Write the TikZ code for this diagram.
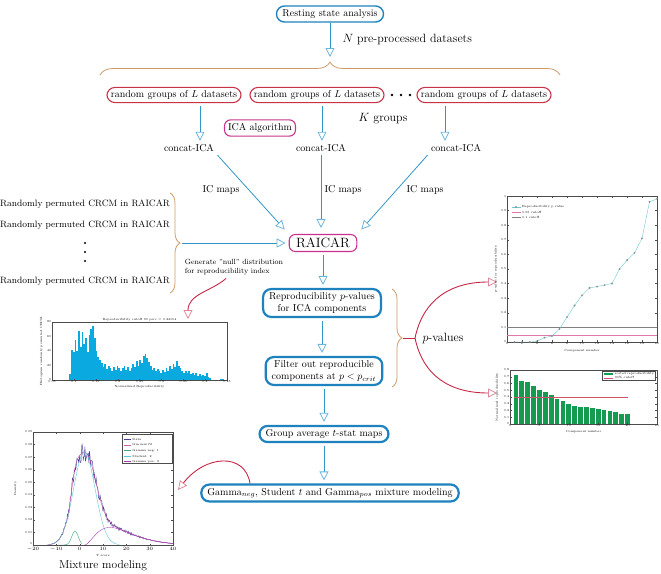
\documentclass[tikz,border=0pt]{standalone}
\usetikzlibrary{arrows.meta,positioning,decorations.pathreplacing}

% colours
\definecolor{flowblue}{RGB}{30,130,190}
\definecolor{arrowblue}{RGB}{50,150,200}
\definecolor{tipblue}{RGB}{110,180,220}
\definecolor{groupred}{RGB}{200,50,70}
\definecolor{icamag}{RGB}{200,50,140}
\definecolor{bracetan}{RGB}{205,155,105}
\definecolor{curvered}{RGB}{195,40,70}
\definecolor{histblue}{RGB}{10,170,225}
\definecolor{bargreen}{RGB}{20,155,80}
\definecolor{datacol}{RGB}{70,60,150}
\definecolor{fitcol}{RGB}{210,90,170}
\definecolor{negcol}{RGB}{60,170,120}
\definecolor{studcol}{RGB}{90,200,210}
\definecolor{poscol}{RGB}{170,60,180}
\definecolor{plinecol}{RGB}{110,200,210}
\definecolor{cutpink}{RGB}{220,120,170}

\tikzset{
  stepbox/.style={draw=flowblue, line width=1.4pt, rounded corners=8pt,
    inner xsep=6pt, inner ysep=3.5pt, align=center},
  thickbox/.style={stepbox, line width=2.2pt},
  groupbox/.style={draw=groupred, line width=1.1pt, rounded corners=8pt,
    inner xsep=4pt, inner ysep=3pt},
  magbox/.style={draw=icamag, line width=1.1pt, rounded corners=6pt, inner sep=3.5pt},
  flow/.style={draw=arrowblue, line width=0.8pt,
    -{Triangle[open, length=9pt, width=9pt, color=tipblue, line width=0.8pt]}},
  gap/.style={shorten <=3pt, shorten >=3pt},
  redcurve/.style={draw=curvered, line width=0.9pt,
    -{Triangle[open, length=9pt, width=9pt, color=curvered!55, line width=0.8pt]}},
  tanbrace/.style={draw=bracetan, line width=0.8pt, decorate,
    decoration={brace, amplitude=#1}},
  tanbrace/.default=10pt,
  biglabel/.style={font=\large},
  permtext/.style={font=\fontsize{9.2}{11}\selectfont},
  smalltext/.style={font=\fontsize{7.5}{9}\selectfont, align=left},
  captext/.style={font=\fontsize{11.5}{13}\selectfont},
  plottick/.style={font=\fontsize{3}{3.6}\selectfont, inner sep=0.6pt},
  axisline/.style={draw=black!70, line width=0.25pt},
  histbar/.style={fill=histblue},
  pline/.style={draw=plinecol, line width=0.4pt},
  pmark/.style={draw=gray, circle, inner sep=0pt, minimum size=1.6pt, line width=0.3pt},
  cut05/.style={draw=cutpink, line width=0.4pt},
  cut10/.style={draw=gray, line width=0.4pt},
}

\begin{document}
\begin{tikzpicture}[x=1pt, y=-1pt]
  \useasboundingbox (0,0) rectangle (661,573);

  % top of the pipeline
  \node[stepbox] (rest) at (330,14) {Resting state analysis};
  \coordinate (npre) at (330,57);
  \draw[flow] (rest) -- (npre);
  \node[biglabel, anchor=west] (nlab) at (339,39) {$N$ pre-processed datasets};
  \draw[tanbrace=13pt] (100,75) -- (560,75);

  % K random groups
  \node[groupbox] (grp1) at (174,95) {random groups of $L$ datasets};
  \node[groupbox] (grp2) at (317,95) {random groups of $L$ datasets};
  \node[groupbox] (grp3) at (484,95) {random groups of $L$ datasets};
  \foreach \x in {392,401,410} \fill (\x,95) circle (1.3);
  \node[magbox] (ica) at (260,128) {ICA algorithm};
  \node[biglabel] (kgrp) at (383,119) {$K$ groups};

  \node (cat1) at (189,148) {concat-ICA};
  \node (cat2) at (321,148) {concat-ICA};
  \node (cat3) at (456,148) {concat-ICA};
  \draw[flow, shorten <=3pt] ([xshift=26pt]grp1.south) -- ([xshift=11pt]cat1.north);
  \draw[flow, shorten <=3pt] ([xshift=5pt]grp2.south) -- ([xshift=1pt]cat2.north);
  \draw[flow, shorten <=3pt] ([xshift=-39pt]grp3.south) -- ([xshift=-11pt]cat3.north);

  % RAICAR
  \node[magbox, font=\fontsize{13.5}{16}\selectfont, inner xsep=7pt] (raicar) at (323,243) {RAICAR};
  \draw[flow, shorten >=6pt] (cat1.south east) -- (raicar.north west);
  \draw[flow, shorten >=6pt] (cat2.south) -- (cat2.south |- raicar.north);
  \draw[flow, shorten >=6pt] (cat3.south west) -- (raicar.north east);
  \node (ic1) at (221,190) {IC maps};
  \node (ic2) at (343,190) {IC maps};
  \node (ic3) at (425,190) {IC maps};

  % permuted CRCM
  \node[permtext] (perm1) at (85,204) {Randomly permuted CRCM in RAICAR};
  \node[permtext] (perm2) at (85,225) {Randomly permuted CRCM in RAICAR};
  \foreach \y in {243,252,261} \fill (85,\y) circle (1.2);
  \node[permtext] (perm3) at (85,281) {Randomly permuted CRCM in RAICAR};
  \draw[tanbrace] (170,193) -- (170,293);
  \coordinate (nullsrc) at (182,243);
  \draw[flow, shorten >=3pt] (nullsrc) -- (raicar.west);
  \node[smalltext] (nulltxt) at (234,267) {Generate "null" distribution\\for reproducibility index};
  \coordinate (histin) at (188,319);
  \draw[redcurve] ([xshift=-8pt]nulltxt.south) .. controls (212,291) and (188,294) .. (histin);

  % reproducibility and filtering
  \node[thickbox] (pval) at (322,303) {Reproducibility $p$-values\\for ICA components};
  \draw[flow, gap] (raicar.south) -- (raicar.south |- pval.north);
  \node[thickbox] (filt) at (324,371) {Filter out reproducible\\components at $p<p_{crit}$};
  \draw[flow, gap] (pval.south) -- (pval.south |- filt.north);
  \node[thickbox] (gavg) at (324,434) {Group average $t$-stat maps};
  \draw[flow, gap] (filt.south) -- (filt.south |- gavg.north);
  \node[thickbox] (gmix) at (330,493) {Gamma$_{neg}$, Student $t$ and Gamma$_{pos}$ mixture modeling};
  \draw[flow, gap] (gavg.south) -- (gavg.south |- gmix.north);

  % p-values to the plots
  \draw[tanbrace] (392,289) -- (392,387);
  \coordinate (pbr) at (403,338);
  \coordinate (psplit) at (415,338);
  \node[biglabel] (pvlab) at (443,338) {$p$-values};
  \coordinate (pup) at (497,282);
  \coordinate (pdown) at (497,393);
  \draw[curvered, line width=0.9pt] (pbr) -- (psplit);
  \draw[redcurve] (psplit) .. controls (423,300) and (450,282) .. (pup);
  \draw[redcurve] (psplit) .. controls (423,376) and (450,393) .. (pdown);

  % mixture modeling arrow
  \coordinate (mixin) at (178,490);
  \draw[redcurve] ([xshift=-80pt]gmix.north) .. controls (245,452) and (205,455) .. (mixin);
  \node[captext] (mixcap) at (103,566) {Mixture modeling};

  % reproducibility p value plot
  \begin{scope}[shift={(507,342)}, x=7.5pt, y=146pt]
    \def\pvals{0,0,0,0.005,0.03,0.04,0.09,0.17,0.25,0.32,0.37,0.38,0.39,0.40,0.50,0.56,0.61,0.71,0.96,0.98}
    \draw[axisline] (0,0) rectangle (20,1);
    \foreach \t in {0,2,...,20} {
      \draw[axisline] (\t,0) -- ++(0,0.015) (\t,1) -- ++(0,-0.015);
      \node[plottick, below] at (\t,0) {\t};
    }
    \foreach \t/\lab in {0/0,1/0.1,2/0.2,3/0.3,4/0.4,5/0.5,6/0.6,7/0.7,8/0.8,9/0.9,10/1} {
      \draw[axisline] (0,\t/10) -- ++(0.25,0) (20,\t/10) -- ++(-0.25,0);
      \node[plottick, left] at (0,\t/10) {\lab};
    }
    \draw[cut10] (0,0.1) -- (20,0.1);
    \draw[cut05] (0,0.05) -- (20,0.05);
    \foreach \p [count=\i] in \pvals {\coordinate (pv\i) at (\i,\p);}
    \draw[pline] (pv1) \foreach \i in {2,...,20} {-- (pv\i)};
    \foreach \i in {1,...,20} \node[pmark] at (pv\i) {};
    % legend
    \draw[pline] (0.6,0.925) -- (1.8,0.925);
    \node[pmark] at (1.2,0.925) {};
    \node[plottick, right] at (1.9,0.925) {Reproducibility p value};
    \draw[cut05] (0.6,0.89) -- (1.8,0.89);
    \node[plottick, right] at (1.9,0.89) {0.05 cutoff};
    \draw[cut10] (0.6,0.855) -- (1.8,0.855);
    \node[plottick, right] at (1.9,0.855) {0.1 cutoff};
    \node[plottick] at (10,-0.06) {Component number};
    \node[plottick, rotate=90] at (-1.5,0.5) {p-value for reproducibility};
  \end{scope}

  % sorted reproducibility bars
  \begin{scope}[shift={(510,424)}, x=5.88pt, y=67.5pt]
    \draw[axisline] (0,0) rectangle (25,0.8);
    \foreach \v [count=\i] in {0.72,0.64,0.62,0.56,0.5,0.47,0.43,0.37,0.34,0.30,0.26,0.25,0.25,0.24,0.22,0.21,0.20,0.18,0.15,0.15}
      \fill[bargreen] (\i-0.4,0) rectangle (\i+0.4,\v);
    \draw[curvered!80, line width=0.4pt] (0.6,0.4) -- (20,0.4);
    \foreach \t in {0,5,...,25} {
      \draw[axisline] (\t,0) -- ++(0,0.02);
      \node[plottick, below] at (\t,0) {\t};
    }
    \foreach \t/\lab in {0/0,1/0.1,2/0.2,3/0.3,4/0.4,5/0.5,6/0.6,7/0.7,8/0.8} {
      \draw[axisline] (0,\t/10) -- ++(0.3,0) (25,\t/10) -- ++(-0.3,0);
      \node[plottick, left] at (0,\t/10) {\lab};
    }
    % legend
    \draw[axisline, fill=white] (15.7,0.785) rectangle (24.6,0.645);
    \fill[bargreen] (16.0,0.76) rectangle (17.6,0.73);
    \node[plottick, right] at (17.7,0.745) {sorted reproducibility};
    \draw[curvered!80, line width=0.4pt] (16.0,0.685) -- (17.6,0.685);
    \node[plottick, right] at (17.7,0.685) {90\% cutoff};
    \node[plottick] at (12.5,-0.12) {Component number};
    \node[plottick, rotate=90] at (-2.2,0.4) {Normalized reproducibility};
  \end{scope}

  % null distribution histogram
  \begin{scope}[shift={(30.125,380)}, x=437.5pt, y=0.725pt]
    \def\histvals{8,42,38,55,40,68,45,66,50,58,38,62,70,74,58,40,32,28,24,18,
      22,15,20,16,12,18,14,20,17,12,16,20,14,18,12,16,22,18,26,20,
      28,24,33,36,30,25,20,14,17,12,15,12,10,14,11,17,13,20,15,22,
      18,26,20,17,12,10,13,9,12,8,10,7,9,6,8,5,7,6,10,4,3}
    \foreach \h [count=\i] in \histvals
      \fill[histbar] ({0.086+0.004*\i},0) rectangle ++(0.004,\h);
    \fill[histbar] (0.434,0) rectangle ++(0.004,2);
    \fill[histbar] (0.438,0) rectangle ++(0.004,2);
    \draw[axisline] (0.05,0) rectangle (0.45,80);
    \foreach \t in {0.05,0.1,0.15,0.2,0.25,0.3,0.35,0.4,0.45} {
      \draw[axisline] (\t,0) -- ++(0,1.5);
      \node[plottick, below] at (\t,0) {\t};
    }
    \foreach \t in {0,20,...,80} {
      \draw[axisline] (0.05,\t) -- ++(0.003,0);
      \node[plottick, left] at (0.05,\t) {\t};
    }
    \node[plottick, above] at (0.25,80) {Reproducibility cutoff 90 perc = 0.34104};
    \node[plottick] at (0.25,-10) {Normalized Reproducibility};
    \node[plottick, rotate=90] at (0.026,40) {Histogram randomly permuted CRCM};
  \end{scope}

  % mixture model plot
  \begin{scope}[shift={(79.67,545)}, x=2.333pt, y=12.556pt,
    declare function={
      gneg(\t)=1.1*exp(-((\t+2)*(\t+2))/3.9);
      stud(\t)=7.4*exp(-((\t-2)*(\t-2))/42.3);
      gpos(\t)=0.0855*max(\t-2,0)*max(\t-2,0)*exp(-max(\t-2,0)/5.5);
      gfit(\t)=gneg(\t)+stud(\t)+gpos(\t);
    }]
    \pgfmathsetseed{7}
    \draw[datacol, line width=0.45pt] plot[domain=-13:40, samples=220] (\x, {gfit(\x)*(1+0.1*rand)});
    \draw[fitcol, line width=0.4pt] plot[domain=-14:40, samples=120] (\x, {gfit(\x)});
    \draw[negcol, line width=0.4pt] plot[domain=-9:1, samples=40] (\x, {gneg(\x)});
    \draw[studcol, line width=0.4pt] plot[domain=-13:17, samples=80] (\x, {stud(\x)});
    \draw[poscol, line width=0.4pt] plot[domain=2:40, samples=80] (\x, {gpos(\x)});
    \draw[axisline] (-20,0) rectangle (40,9);
    \foreach \t in {-20,-10,...,40} {
      \draw[axisline] (\t,0) -- ++(0,0.12) (\t,9) -- ++(0,-0.12);
      \node[plottick, below=1pt] at (\t,0) {$\t$};
    }
    \foreach \t in {1,...,9} {
      \draw[axisline] (-20,\t) -- ++(0.8,0) (40,\t) -- ++(-0.8,0);
      \node[plottick, left] at (-20,\t) {0.0\t};
    }
    \node[plottick, left, yshift=1pt] at (-20,0) {0};
    % legend
    \draw[axisline, fill=white] (18.2,8.85) rectangle (39.6,6.55);
    \foreach \c/\lab [count=\k] in {datacol/Data, fitcol/Gm mix fit, negcol/Gamma neg: 1, studcol/Student: 2, poscol/Gamma pos: 3} {
      \pgfmathsetmacro\ly{8.85-0.44*\k}
      \draw[\c, line width=0.4pt] (19,\ly) -- (22,\ly);
      \node[plottick, right] at (22.3,\ly) {\lab};
    }
    \node[plottick] at (10,-0.85) {T score};
    \node[plottick, rotate=90] at (-27.5,4.5) {Density};
  \end{scope}
\end{tikzpicture}
\end{document}
